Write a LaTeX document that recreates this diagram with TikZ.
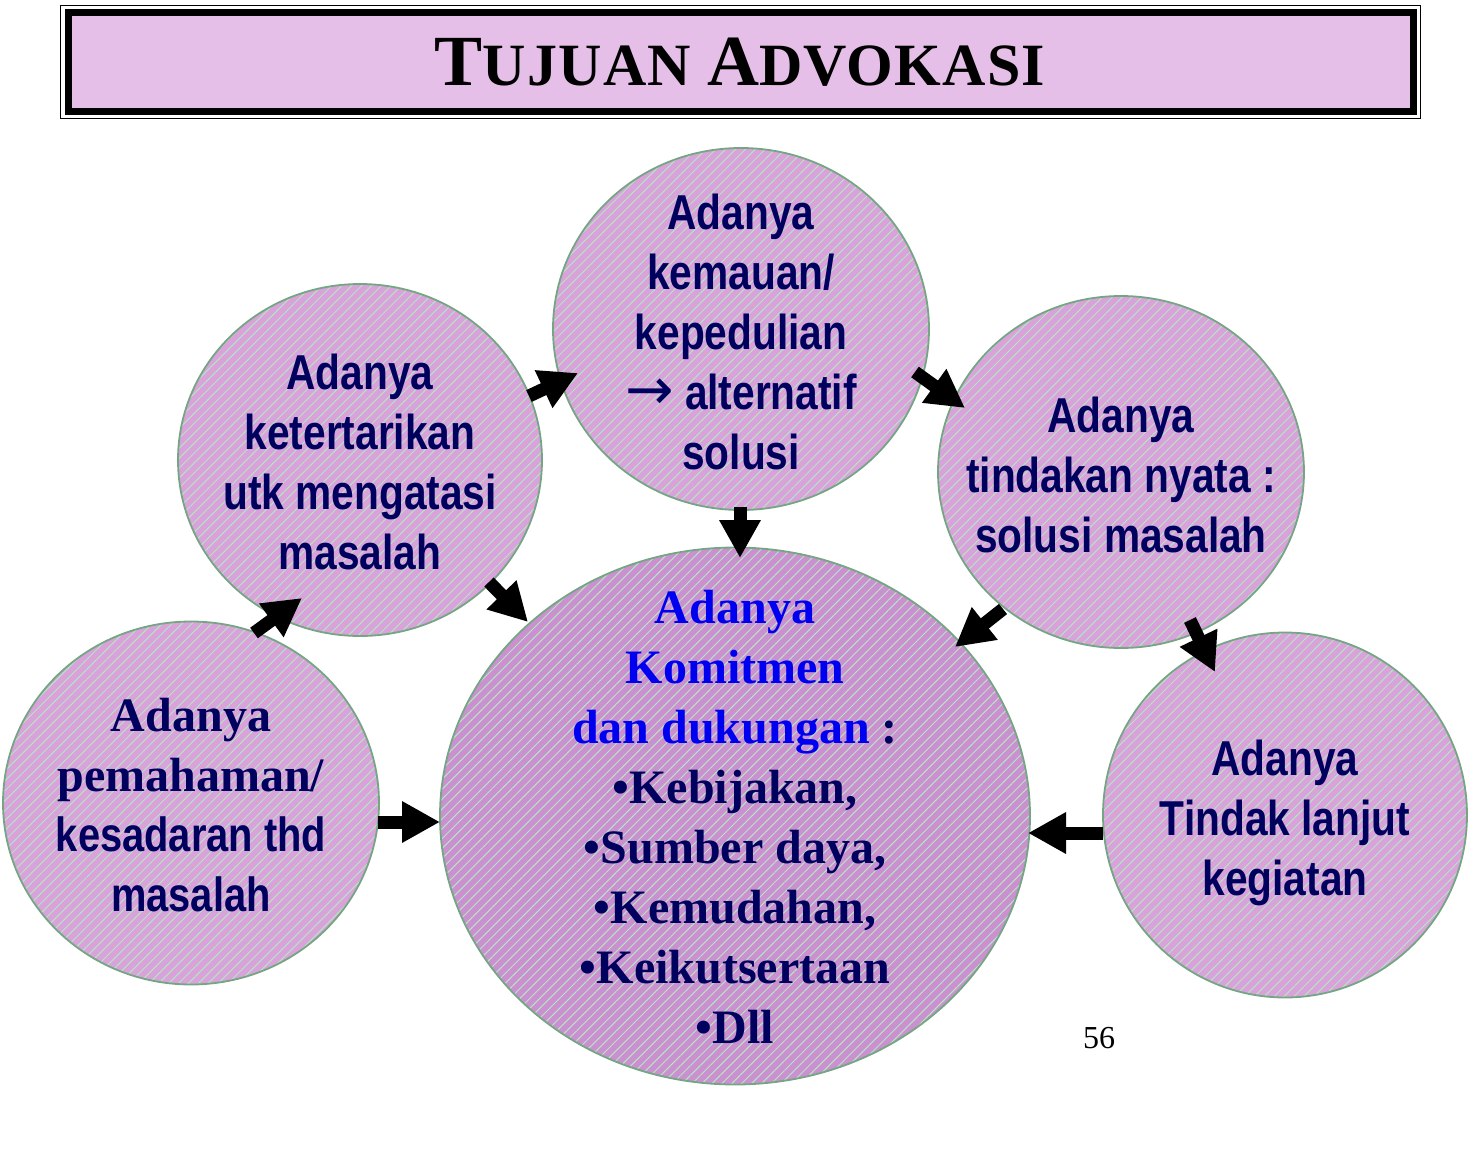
\documentclass[tikz,border=0pt]{standalone}
\usepackage{fontspec}
\setmainfont{Liberation Serif}
\newfontfamily\narrowsans[FakeStretch=0.83]{Liberation Sans}
\newfontfamily\titlefont[LetterSpace=2]{Liberation Serif}
\newfontfamily\arrowfont{DejaVu Sans}
\usetikzlibrary{arrows.meta,shapes.geometric,patterns.meta}
\definecolor{navy}{HTML}{00005E}
\definecolor{titlepink}{HTML}{E6BFE8}
\definecolor{cpink}{HTML}{D9A2DA}
\definecolor{ccpink}{HTML}{CB90CF}
\definecolor{pgreen}{HTML}{B4E6C4}
\definecolor{rim}{HTML}{74A684}
\definecolor{cblue}{HTML}{0000F0}
\tikzset{
  circ/.style={ellipse, inner sep=0pt, draw=rim, line width=1.8pt,
    preaction={fill=cpink},
    pattern={Lines[angle=45,distance=7pt,line width=1pt]}, pattern color=pgreen},
  bigcirc/.style={circ, preaction={fill=ccpink}},
  sanstext/.style={text=navy, align=center,
    font=\narrowsans\bfseries\fontsize{49}{60}\selectfont},
  seriftext/.style={text=navy, align=center,
    font=\bfseries\fontsize{48}{60}\selectfont},
  barrow/.style={line width=13pt, draw=black, -{Triangle[length=38pt,width=39pt]}}
}
\begin{document}
\begin{tikzpicture}[x=1pt,y=-1pt]
\useasboundingbox (0,0) rectangle (1468,1162);
% title
\draw[line width=1.5pt] (60.5,5.5) rectangle (1420.5,118.5);
\draw[line width=7pt, fill=titlepink] (68,12) rectangle (1413,111);
\node[anchor=base, inner sep=0pt] (title) at (740,85)
  {\titlefont\bfseries{\fontsize{72}{72}\selectfont T}\fontsize{60}{60}\selectfont UJUAN
   {\fontsize{72}{72}\selectfont A}DVOKASI};
% circles
\node[circ, minimum width=376pt, minimum height=362pt] (M) at (741,329) {};
\node[circ, minimum width=364pt, minimum height=352pt] (K) at (360,460) {};
\node[circ, minimum width=366pt, minimum height=352pt] (T) at (1121,472) {};
\node[circ, minimum width=376pt, minimum height=363pt] (P) at (191,803) {};
\node[circ, minimum width=364pt, minimum height=365pt] (L) at (1285,815) {};
\node[bigcirc, minimum width=590pt, minimum height=537pt] (C) at (735,816) {};
% arrows
\coordinate (k2m-s) at (529,396); \coordinate (k2m-e) at (578,373);
\coordinate (m2t-s) at (915,372); \coordinate (m2t-e) at (965,408);
\coordinate (m2c-s) at (740,507); \coordinate (m2c-e) at (740,558);
\coordinate (k2c-s) at (489,582); \coordinate (k2c-e) at (528,622);
\coordinate (p2k-s) at (254,633); \coordinate (p2k-e) at (302,598);
\coordinate (t2c-s) at (1003,609); \coordinate (t2c-e) at (955,647);
\coordinate (t2l-s) at (1190,620); \coordinate (t2l-e) at (1215,672);
\coordinate (p2c-s) at (378,822); \coordinate (p2c-e) at (440,822);
\coordinate (l2c-s) at (1103,833); \coordinate (l2c-e) at (1028,833);
\draw[barrow] (k2m-s) -- (k2m-e);
\draw[barrow] (m2t-s) -- (m2t-e);
\draw[barrow] (m2c-s) -- (m2c-e);
\draw[barrow] (k2c-s) -- (k2c-e);
\draw[barrow] (p2k-s) -- (p2k-e);
\draw[barrow] (t2c-s) -- (t2c-e);
\draw[barrow] (t2l-s) -- (t2l-e);
\draw[barrow] (p2c-s) -- (p2c-e);
\draw[barrow] (l2c-s) -- (l2c-e);
% texts
\node[sanstext] (Mt) at (741,332) {Adanya\\kemauan/\\kepedulian\\{\arrowfont\mdseries\fontsize{58}{60}\selectfont →} alternatif\\solusi};
\node[sanstext] (Kt) at (360,462) {Adanya\\ketertarikan\\utk mengatasi\\masalah};
\node[sanstext] (Tt) at (1121,475) {Adanya\\tindakan nyata :\\solusi masalah};
\node[sanstext] (Lt) at (1285,823) {Adanya\\Tindak lanjut\\kegiatan};
\node[seriftext] (Pt) at (191,805) {Adanya\\pemahaman/\\{\narrowsans kesadaran thd}\\{\narrowsans masalah}};
\node[seriftext] (Ct) at (735,817) {{\color{cblue}Adanya}\\{\color{cblue}Komitmen}\\{\color{cblue}dan dukungan} :\\•Kebijakan,\\•Sumber daya,\\•Kemudahan,\\•Keikutsertaan\\•Dll};
\node[anchor=base, inner sep=0pt, font=\fontsize{32}{32}\selectfont] (num) at (1099,1048) {56};
\end{tikzpicture}
\end{document}
